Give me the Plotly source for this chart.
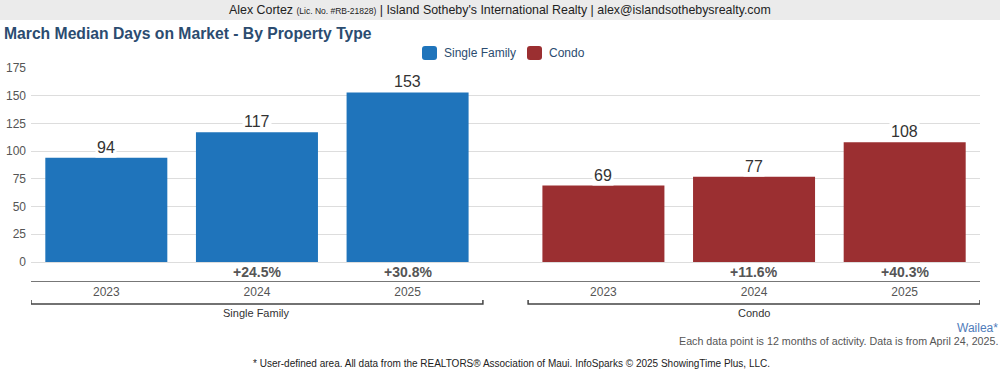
import plotly.graph_objects as go

# ---- data ----
groups = ["Single Family", "Condo"]
years = ["2023", "2024", "2025"]
single_family = [94, 117, 153]
condo = [69, 77, 108]
colors = ["#1f74bb", "#9b2f31"]
y_ticks = [0, 25, 50, 75, 100, 125, 150, 175]

# ---- layout geometry (pixels) ----
W, H = 1000, 375
L, R, T, B = 31, 20, 68, 94
PW, PH = W - L - R, H - T - B
GROUP_GAP = 0.3


def px_x(px):
    return (px - L) / PW


def px_y(py):
    return (H - B - py) / PH


series = [single_family, condo]
fig = go.Figure()
annotations = []
shapes = []
tickvals, ticktext = [], []

for gi, (gname, vals) in enumerate(zip(groups, series)):
    xs = [gi * (len(years) + GROUP_GAP) + i for i in range(len(years))]
    fig.add_trace(go.Bar(
        x=xs, y=vals, name=gname, marker=dict(color=colors[gi], line=dict(width=0)),
        width=0.81, hoverinfo="skip", showlegend=False,
    ))
    tickvals += xs
    ticktext += years
    for i, (x, v) in enumerate(zip(xs, vals)):
        annotations.append(dict(
            x=x, y=v, xref="x", yref="y", text=str(v), showarrow=False,
            yanchor="bottom", yshift=0, bgcolor="white",
            font=dict(size=16, color="#333333"),
        ))
        if i > 0:
            pct = (v / vals[i - 1] - 1) * 100
            annotations.append(dict(
                x=x, y=px_y(272), xref="x", yref="paper",
                text=f"<b>{pct:+.1f}%</b>", showarrow=False,
                yanchor="middle", font=dict(size=14, color="#555555"),
            ))
    x0, x1 = xs[0] - 0.5, xs[-1] + 0.5
    yb, yt = px_y(304), px_y(300)
    shapes.append(dict(
        type="path", xref="x", yref="paper",
        path=f"M {x0},{yt} L {x0},{yb} L {x1},{yb} L {x1},{yt}",
        line=dict(color="#444444", width=1.5),
    ))
    annotations.append(dict(
        x=(xs[0] + xs[-1]) / 2, y=px_y(313), xref="x", yref="paper",
        text=gname, showarrow=False, yanchor="middle",
        font=dict(size=11, color="#333333"),
    ))

# custom legend (rounded swatches + labels)
legend_x = [422, 527]
for gi, gname in enumerate(groups):
    lx = legend_x[gi]
    x0, x1 = px_x(lx), px_x(lx + 15)
    y0, y1 = px_y(60), px_y(46)
    rx, ry = px_x(lx + 3) - px_x(lx), px_y(46) - px_y(49)
    shapes.append(dict(
        type="path", xref="paper", yref="paper",
        path=(f"M {x0+rx},{y1} L {x1-rx},{y1} Q {x1},{y1} {x1},{y1-ry} "
              f"L {x1},{y0+ry} Q {x1},{y0} {x1-rx},{y0} L {x0+rx},{y0} "
              f"Q {x0},{y0} {x0},{y0+ry} L {x0},{y1-ry} Q {x0},{y1} {x0+rx},{y1} Z"),
        fillcolor=colors[gi], line=dict(width=0),
    ))
    annotations.append(dict(
        x=px_x(lx + 20), y=px_y(53), xref="paper", yref="paper", showarrow=False,
        text=gname, font=dict(size=12, color="#2b4c70"),
        xanchor="left", yanchor="middle",
    ))

# banner background
shapes.append(dict(
    type="rect", xref="paper", yref="paper",
    x0=px_x(0), x1=px_x(W), y0=px_y(20), y1=px_y(0),
    fillcolor="#ebebeb", line=dict(width=0), layer="below",
))

annotations += [
    dict(x=px_x(500), y=px_y(10), xref="paper", yref="paper", showarrow=False,
         text="Alex Cortez <span style='font-size:8.5px'>(Lic. No. #RB-21828)</span> | Island Sotheby's International Realty | alex@islandsothebysrealty.com",
         font=dict(size=12.4, color="#222222"), xanchor="center", yanchor="middle"),
    dict(x=px_x(2), y=px_y(34), xref="paper", yref="paper", showarrow=False,
         text="<b>March Median Days on Market - By Property Type</b>",
         font=dict(size=15.7, color="#2b4c70"), xanchor="left", yanchor="middle"),
    dict(x=px_x(1000), y=px_y(328), xref="paper", yref="paper", showarrow=False,
         text="Wailea*", font=dict(size=12, color="#4f7cba"),
         xanchor="right", yanchor="middle"),
    dict(x=px_x(1000), y=px_y(341), xref="paper", yref="paper", showarrow=False,
         text="Each data point is 12 months of activity. Data is from April 24, 2025.",
         font=dict(size=10.7, color="#555555"), xanchor="right", yanchor="middle"),
    dict(x=px_x(511), y=px_y(363), xref="paper", yref="paper", showarrow=False,
         text="* User-defined area. All data from the REALTORS® Association of Maui. InfoSparks © 2025 ShowingTime Plus, LLC.",
         font=dict(size=10, color="#222222"), xanchor="center", yanchor="middle"),
]

y_per_px = 175 / (262 - 68)
y_min = -(281 - 262) * y_per_px

fig.update_layout(
    width=W, height=H,
    margin=dict(l=L, r=R, t=T, b=B, autoexpand=False),
    paper_bgcolor="white", plot_bgcolor="white",
    font=dict(family="Liberation Sans, Arial, sans-serif"),
    barmode="overlay", showlegend=False,
    xaxis=dict(range=[-0.5, 2 * len(years) + GROUP_GAP - 0.5], tickvals=tickvals,
               ticktext=ticktext, showgrid=False, zeroline=False, showline=True,
               linecolor="#777777", linewidth=1, ticks="",
               tickfont=dict(size=12, color="#555555"), fixedrange=True),
    yaxis=dict(range=[y_min, 175], tickvals=y_ticks, showgrid=True,
               gridcolor="#dddddd", gridwidth=1, zeroline=False, showline=False,
               ticks="", ticklabelstandoff=4,
               tickfont=dict(size=12, color="#555555"), fixedrange=True),
    annotations=annotations, shapes=shapes, hovermode=False,
)

fig.write_html("out.html", config={"displayModeBar": False},
               post_script="document.body.style.margin='0';document.body.style.padding='0';")
